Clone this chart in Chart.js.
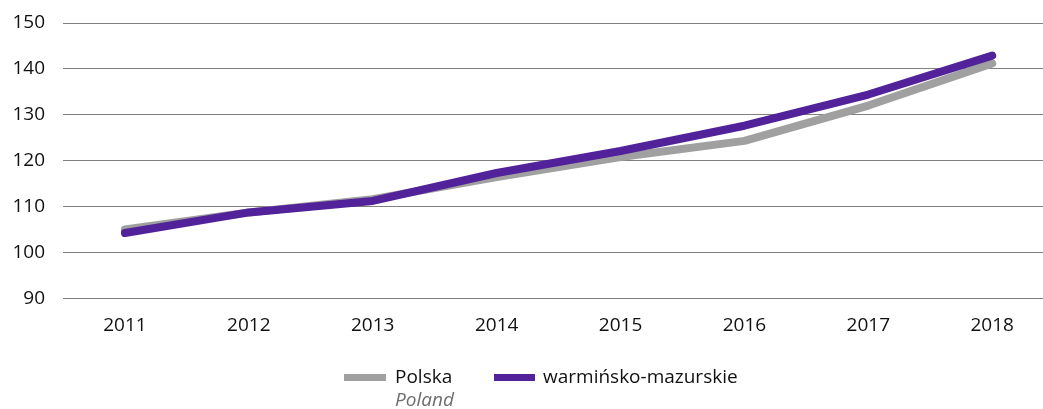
<!DOCTYPE html>
<html><head><meta charset="utf-8">
<script src="https://cdn.jsdelivr.net/npm/chart.js@4"></script>
<style>
html,body{margin:0;padding:0;background:#fff;}
#wrap{position:relative;width:1043px;height:409px;font-family:"Open Sans",sans-serif;}
#c{position:absolute;left:0;top:0;}
.lg{position:absolute;font-size:19px;color:#111;line-height:1;}
.sw{position:absolute;height:7px;}
</style></head><body>
<div id="wrap">
<canvas id="c" width="1043" height="367"></canvas>
<div class="sw" style="left:344px;top:374px;width:42px;background:#a0a0a0"></div>
<div class="lg" style="left:395px;top:367px">Polska</div>
<div class="lg" style="left:395px;top:390px;font-style:italic;color:#6e6e6e">Poland</div>
<div class="sw" style="left:494px;top:374px;width:41px;background:#52229a"></div>
<div class="lg" style="left:543px;top:367px">warmińsko-mazurskie</div>
</div>
<script>
const years = [2011, 2012, 2013, 2014, 2015, 2016, 2017, 2018];
const polska = [105.0, 108.7, 111.6, 116.4, 120.8, 124.3, 132.0, 141.2];
const warminsko = [104.2, 108.7, 111.2, 117.3, 122.1, 127.6, 134.4, 142.9];
const yTicks = [90, 100, 110, 120, 130, 140, 150];

const pts = arr => years.map((y, i) => ({x: y, y: arr[i]}));
new Chart(document.getElementById('c'), {
  type: 'line',
  data: {
    datasets: [
      {label: 'warmińsko-mazurskie', data: pts(warminsko), borderColor: '#52229a', borderWidth: 8, pointRadius: 0, tension: 0, borderCapStyle: 'round', borderJoinStyle: 'round'},
      {label: 'Polska', data: pts(polska), borderColor: '#a0a0a0', borderWidth: 8, pointRadius: 0, tension: 0, borderCapStyle: 'round', borderJoinStyle: 'round'}
    ]
  },
  options: {
    responsive: false, animation: false,
    layout: {padding: {top: 23, right: 0, bottom: 22, left: 0}},
    plugins: {legend: {display: false}, tooltip: {enabled: false}},
    scales: {
      x: {
        type: 'linear', min: 2010.5, max: 2018.41,
        afterBuildTicks: s => { s.ticks = years.map(v => ({value: v})); },
        afterFit: s => { s.paddingLeft = 0; s.paddingRight = 0; },
        grid: {display: false},
        border: {display: false},
        ticks: {padding: 8, color: '#111', font: {family: 'Open Sans', size: 19}, callback: v => String(v), maxRotation: 0, autoSkip: false}
      },
      y: {
        min: 90, max: 150,
        afterBuildTicks: s => { s.ticks = yTicks.map(v => ({value: v})); },
        afterFit: s => { s.width = 63; s.paddingTop = 0; s.paddingBottom = 0; },
        grid: {color: '#808080', lineWidth: 1, drawTicks: false},
        border: {display: false},
        ticks: {padding: 18, color: '#111', font: {family: 'Open Sans', size: 19}}
      }
    }
  }
});
</script>
</body></html>
